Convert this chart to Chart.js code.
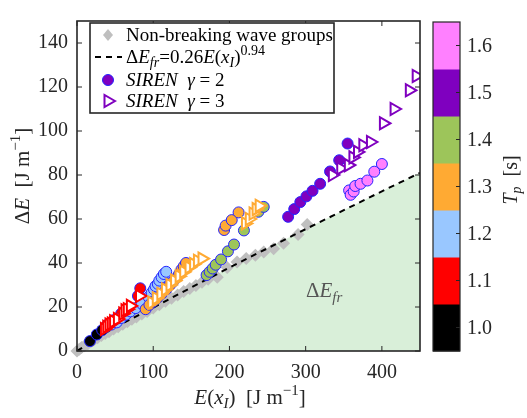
<!DOCTYPE html>
<html>
<head>
<meta charset="utf-8">
<script src="https://cdn.jsdelivr.net/npm/chart.js@4.4.1/dist/chart.umd.min.js"></script>
<style>
  html, body { margin: 0; padding: 0; background: #fff; }
  canvas { display: block; }
</style>
</head>
<body>
<canvas id="chart" width="527" height="418"></canvas>
<script>
// axis ticks
const xTicks = [0, 100, 200, 300, 400];
const yTicks = [0, 20, 40, 60, 80, 100, 120, 140];

// colour bar (peak period Tp)
const tpLabels = ['1.0', '1.1', '1.2', '1.3', '1.4', '1.5', '1.6'];
const tpColors = ['#000000', '#ff0000', '#99c7ff', '#ffaa33', '#9dc55a', '#7f00bf', '#ff80ff'];

// non-breaking wave groups [E(xI), dE]
const nonBreaking = [[0,0],[3,0.8],[6,1.6],[10,2.4],[14,3.2],[18,4.2],[22,5],[27,6],[32,7],[37,8],
  [42,8.8],[48,10],[54,11],[60,12.2],[66,13.3],[72,14.4],[78,15.5],[85,16.8],[92,18],[100,19.6],
  [108,21],[116,22.6],[124,24],[132,25.5],[140,27],[148,28.4],[156,29.8],[164,31.2],[172,32.6],
  [184,33.5],[197,38],[210,40.5],[222,42],[234,43.5],[245,45],[258,46.5],[271,49],[290,53],[302,57.5]];

// fit dE_fr = 0.26 E(xI)^0.94
const fitLine = [[0,0],[50,10.9],[100,19.7],[150,28.9],[200,37.9],[250,46.7],[300,55.4],[350,64],[400,72.6],[450,81]];

// SIREN gamma = 2 (circles), one list per Tp
const g2Tp10 = [[17,4.5],[26,7.5],[33,9.5]];
const g2Tp11 = [[40,12],[48,14],[58,17],[80,25],[83,28.5]];
const g2Tp12 = [[38,11],[45,12],[52,13],[58,15],[64,16.5],[70,18],[77,19.5],[85,21.5],[94,24.5],
  [98,26.5],[101,28],[103,29.5],[106,30.5],[108,32],[111,33.5],[114,35],[117,36]];
const g2Tp13 = [[90,19],[95,21],[100,22.5],[105,24],[111,26],[117,28],[122,30],[126,31.5],[131,33.5],
  [134,35],[137,37],[140,38.5],[143,40],[193,55],[195,57],[203,59.5],[212,63]];
const g2Tp14 = [[170,34.5],[174,36],[178,37.5],[182,39.2],[189,41.6],[198,45.3],[206,48.4],[219,54.8],[238,63.3],[245,65.5]];
const g2Tp15 = [[277,61],[285,64.5],[293,67.7],[301,70.3],[309,72.8],[319,76],[332,81.6],[344,86.7],[355,94.3]];
const g2Tp16 = [[357,73],[359,71],[363,72.5],[365,75],[372,76],[381,77.5],[390,81.5],[400,85]];

// SIREN gamma = 3 (triangles), one list per Tp
const g3Tp11 = [[36,10],[39,11],[42,12],[45,12.5],[48,13.5],[53,14.5],[60,17],[63,18.5],[66,19],[70,20.5],[82,25]];
const g3Tp13 = [[98,22],[104,24],[110,26],[116,28],[122,30],[128,32],[134,34],[140,36],[147,38],[153,39.5],
  [158,41],[164,42],[221,58],[226,60],[231,62.5],[235,64.5],[239,66]];
const g3Tp15 = [[335,80],[346,83],[356,84.5],[362,88],[368,90.5],[375,93.5],[385,95],[402,103.5],[416,110],[436,118.5],[445,125]];

const sirenG2 = [g2Tp10, g2Tp11, g2Tp12, g2Tp13, g2Tp14, g2Tp15, g2Tp16];
const sirenG3 = [[], g3Tp11, [], g3Tp13, [], g3Tp15, []];

const SERIF = '"Liberation Serif", "DejaVu Serif", serif';
const INK = '#262626';
const toPts = arr => arr.map(p => ({ x: p[0], y: p[1] }));

// draws a run of text pieces (italic / sub / superscript) on one baseline
function rich(ctx, segs, x, y, align) {
    const font = s => `${s.i ? 'italic ' : ''}${s.s || 19}px ${SERIF}`;
    let w = 0;
    segs.forEach(s => { ctx.font = font(s); w += ctx.measureText(s.t).width; });
    let cx = align === 'center' ? x - w / 2 : x;
    ctx.textAlign = 'left';
    ctx.textBaseline = 'alphabetic';
    segs.forEach(s => {
        ctx.font = font(s);
        ctx.fillText(s.t, cx, y + (s.dy || 0));
        cx += ctx.measureText(s.t).width;
    });
}

const datasets = [];
datasets.push({
    data: toPts(fitLine), showLine: true, pointRadius: 0, borderWidth: 0,
    borderColor: 'rgba(0,0,0,0)', backgroundColor: '#d9efd9', fill: 'origin', order: 100
});
datasets.push({
    data: toPts(nonBreaking), pointStyle: 'rectRot', pointRadius: 6.5,
    backgroundColor: '#bfbfbf', borderColor: '#bfbfbf', borderWidth: 0, clip: false, order: 90
});
datasets.push({
    data: toPts(fitLine), showLine: true, pointRadius: 0, borderColor: '#000',
    borderWidth: 2, borderDash: [6, 5], fill: false, order: 80
});
sirenG2.forEach((arr, i) => datasets.push({
    data: toPts(arr), pointStyle: 'circle', pointRadius: 5.5,
    backgroundColor: tpColors[i], borderColor: '#2424ff', borderWidth: 1, order: 70 - i
}));
sirenG3.forEach((arr, i) => datasets.push({
    data: toPts(arr), pointStyle: 'triangle', pointRadius: 7, rotation: 90,
    backgroundColor: '#fff', borderColor: tpColors[i], borderWidth: 2, order: 50 - i
}));

const decorations = {
    id: 'decorations',
    afterDraw(chart) {
        const ctx = chart.ctx;
        const a = chart.chartArea;
        const xs = chart.scales.x, ys = chart.scales.y;
        ctx.save();

        // axes box with inward ticks on all sides
        ctx.strokeStyle = INK;
        ctx.lineWidth = 1.6;
        ctx.strokeRect(a.left, a.top, a.right - a.left, a.bottom - a.top);
        ctx.lineWidth = 1;
        ctx.beginPath();
        xTicks.forEach(v => {
            const px = xs.getPixelForValue(v);
            ctx.moveTo(px, a.bottom); ctx.lineTo(px, a.bottom - 5);
            ctx.moveTo(px, a.top); ctx.lineTo(px, a.top + 5);
        });
        yTicks.forEach(v => {
            const py = ys.getPixelForValue(v);
            ctx.moveTo(a.left, py); ctx.lineTo(a.left + 5, py);
            ctx.moveTo(a.right, py); ctx.lineTo(a.right - 5, py);
        });
        ctx.stroke();

        // region label
        ctx.fillStyle = '#555';
        rich(ctx, [{ t: 'Δ', s: 21 }, { t: 'E', i: 1, s: 21 }, { t: 'fr', i: 1, s: 15, dy: 5 }], 306, 297);

        // legend
        const lx = 90, ly = 23, lw = 244, lh = 90;
        ctx.fillStyle = '#fff';
        ctx.fillRect(lx, ly, lw, lh);
        ctx.strokeStyle = INK;
        ctx.lineWidth = 1.6;
        ctx.strokeRect(lx, ly, lw, lh);

        const sx = 108;
        ctx.fillStyle = '#bfbfbf';
        ctx.beginPath();
        ctx.moveTo(sx, 29); ctx.lineTo(sx + 5, 35); ctx.lineTo(sx, 41); ctx.lineTo(sx - 5, 35);
        ctx.closePath(); ctx.fill();

        ctx.strokeStyle = '#000';
        ctx.lineWidth = 2;
        ctx.setLineDash([6, 5]);
        ctx.beginPath(); ctx.moveTo(95, 57); ctx.lineTo(122, 57); ctx.stroke();
        ctx.setLineDash([]);

        ctx.fillStyle = tpColors[5];
        ctx.strokeStyle = '#2424ff';
        ctx.lineWidth = 1;
        ctx.beginPath(); ctx.arc(sx, 80, 5.5, 0, Math.PI * 2); ctx.fill(); ctx.stroke();

        ctx.strokeStyle = tpColors[5];
        ctx.lineWidth = 2;
        ctx.beginPath();
        ctx.moveTo(sx + 7, 101); ctx.lineTo(sx - 3.5, 95); ctx.lineTo(sx - 3.5, 107);
        ctx.closePath(); ctx.stroke();

        ctx.fillStyle = '#000';
        const tx = 126;
        rich(ctx, [{ t: 'Non-breaking wave groups' }], tx, 41);
        rich(ctx, [{ t: 'Δ' }, { t: 'E', i: 1 }, { t: 'fr', i: 1, s: 14, dy: 4 }, { t: '=0.26' },
            { t: 'E', i: 1 }, { t: '(' }, { t: 'x', i: 1 }, { t: 'I', i: 1, s: 14, dy: 4 }, { t: ')' },
            { t: '0.94', s: 14, dy: -8 }], tx, 63);
        rich(ctx, [{ t: 'SIREN', i: 1 }, { t: '  ' }, { t: 'γ', i: 1 }, { t: ' = 2' }], tx, 86);
        rich(ctx, [{ t: 'SIREN', i: 1 }, { t: '  ' }, { t: 'γ', i: 1 }, { t: ' = 3' }], tx, 107);

        // axis titles
        ctx.fillStyle = INK;
        rich(ctx, [{ t: 'E', i: 1, s: 21 }, { t: '(', s: 21 }, { t: 'x', i: 1, s: 21 }, { t: 'I', i: 1, s: 15, dy: 4 },
            { t: ')  [J m', s: 21 }, { t: '−1', s: 15, dy: -9 }, { t: ']', s: 21 }], 250, 404, 'center');
        ctx.save();
        ctx.translate(22, 176);
        ctx.rotate(-Math.PI / 2);
        rich(ctx, [{ t: 'Δ', s: 21 }, { t: 'E', i: 1, s: 21 }, { t: '  [J m', s: 21 }, { t: '−1', s: 15, dy: -9 }, { t: ']', s: 21 }], 0, 7, 'center');
        ctx.restore();

        // colour bar
        const cbL = 433, cbR = 460, cbT = a.top + 1, cbB = a.bottom;
        const bin = (cbB - cbT) / tpColors.length;
        tpColors.forEach((c, i) => {
            ctx.fillStyle = c;
            ctx.fillRect(cbL, cbB - (i + 1) * bin, cbR - cbL, bin + 0.5);
        });
        ctx.strokeStyle = INK;
        ctx.lineWidth = 1.2;
        ctx.strokeRect(cbL, cbT, cbR - cbL, cbB - cbT);
        ctx.lineWidth = 1;
        ctx.fillStyle = INK;
        ctx.font = `20px ${SERIF}`;
        ctx.textAlign = 'left';
        ctx.textBaseline = 'middle';
        tpLabels.forEach((t, i) => {
            const py = cbB - (i + 0.5) * bin;
            ctx.beginPath(); ctx.moveTo(cbR, py); ctx.lineTo(cbR - 4, py); ctx.stroke();
            ctx.fillText(t, 467, py + 1);
        });
        ctx.save();
        ctx.translate(511, 180);
        ctx.rotate(-Math.PI / 2);
        rich(ctx, [{ t: 'T', i: 1, s: 20 }, { t: 'p', i: 1, s: 14, dy: 4 }, { t: '  [s]', s: 20 }], 0, 6, 'center');
        ctx.restore();

        ctx.restore();
    }
};

new Chart(document.getElementById('chart'), {
    type: 'scatter',
    data: { datasets },
    plugins: [decorations],
    options: {
        responsive: false,
        devicePixelRatio: 1,
        animation: false,
        layout: { padding: { left: 0, right: 107, top: 9, bottom: 0 } },
        plugins: { legend: { display: false }, tooltip: { enabled: false } },
        scales: {
            x: {
                type: 'linear', min: 0, max: 450,
                grid: { display: false, drawTicks: false },
                border: { display: false },
                afterBuildTicks: s => { s.ticks = xTicks.map(v => ({ value: v })); },
                afterFit: s => { s.height = 67; },
                ticks: { padding: 10, color: INK, font: { family: SERIF, size: 20 } }
            },
            y: {
                type: 'linear', min: 0, max: 150,
                grid: { display: false, drawTicks: false },
                border: { display: false },
                afterBuildTicks: s => { s.ticks = yTicks.map(v => ({ value: v })); },
                afterFit: s => { s.width = 77; },
                ticks: { padding: 9, color: INK, font: { family: SERIF, size: 20 } }
            }
        }
    }
});
</script>
</body>
</html>
